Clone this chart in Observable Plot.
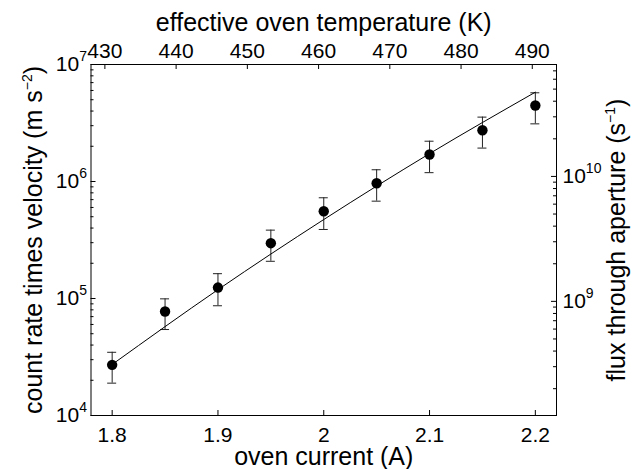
<!DOCTYPE html>
<html><head><meta charset="utf-8">
<script src="https://cdn.jsdelivr.net/npm/d3@7"></script>
<script src="https://cdn.jsdelivr.net/npm/@observablehq/plot@0.6"></script>
<style>
body{margin:0;background:#fff;}
#wrap{position:relative;width:639px;height:469px;overflow:hidden;}
#wrap svg{position:absolute;left:0;top:0;background:transparent;}
</style></head><body><div id="wrap"></div>
<script>
// ---- data ----
const current = [1.8, 1.85, 1.9, 1.95, 2.0, 2.05, 2.1, 2.15, 2.2];
const rate    = [2.71e4, 7.74e4, 1.24e5, 2.97e5, 5.57e5, 9.66e5, 1.70e6, 2.74e6, 4.46e6];
const rateHi  = [3.47e4, 9.93e4, 1.63e5, 3.84e5, 7.26e5, 1.26e6, 2.21e6, 3.55e6, 5.73e6];
const rateLo  = [1.89e4, 5.43e4, 8.67e4, 2.08e5, 3.89e5, 6.79e5, 1.19e6, 1.93e6, 3.11e6];
const fitCurrent = [1.8, 1.9, 2.0, 2.1, 2.2];
const fitRate    = [2.73e4, 1.19e5, 4.73e5, 1.73e6, 5.8e6];

const xTicks = [1.8, 1.9, 2.0, 2.1, 2.2];
const xTickLabels = ["1.8", "1.9", "2", "2.1", "2.2"];
const yTicks = [1e4, 1e5, 1e6, 1e7];
const yTickLabels = ["10^{4}", "10^{5}", "10^{6}", "10^{7}"];
const tempTicks = [430, 440, 450, 460, 470, 480, 490];
const fluxTicks = [1e9, 1e10];
const fluxTickLabels = ["10^{9}", "10^{10}"];

const xLabel = "oven current (A)";
const yLabel = "count rate times velocity (m s^{\u22122})";
const topLabel = "effective oven temperature (K)";
const rightLabel = "flux through aperture (s^{\u22121})";

// ---- layout ----
const W = 639, H = 469;
const M = {marginLeft: 90.5, marginRight: 83, marginTop: 64, marginBottom: 54};
const xDomain = [1.78, 2.22], yDomain = [1e4, 1e7];
const tempDomain = [428.05, 493.4], fluxDomain = [1.22e8, 7.87e10];
const FONT = '"Liberation Sans", Arial, Helvetica, sans-serif';
const TICK_FS = 21, LABEL_FS = 25, SUP_FS = 14, SUP_SHIFT = 10;

const isPow10 = v => Math.abs(Math.log10(v) - Math.round(Math.log10(v))) < 1e-9;
const yMinor = d3.scaleLog().domain(yDomain).ticks().filter(v => !isPow10(v));
const fluxMinor = d3.scaleLog().domain(fluxDomain).ticks().filter(v => !isPow10(v));

const points = current.map((c, i) => ({c, r: rate[i], lo: rateLo[i], hi: rateHi[i]}));
const fit = fitCurrent.map((c, i) => ({c, r: fitRate[i]}));

const main = Plot.plot({
  width: W, height: H, ...M,
  style: {fontFamily: FONT, background: "transparent", color: "black"},
  x: {domain: xDomain},
  y: {type: "log", domain: yDomain},
  marks: [
    Plot.frame({stroke: "black", strokeWidth: 1}),
    // inward ticks
    Plot.ruleY(yMinor, {y: d => d, x1: xDomain[0], x2: xDomain[0], insetRight: -3, stroke: "black"}),
    Plot.ruleY(yTicks, {y: d => d, x1: xDomain[0], x2: xDomain[0], insetRight: -5, stroke: "black"}),
    Plot.ruleX(xTicks, {x: d => d, y1: yDomain[0], y2: yDomain[0], insetBottom: 5, stroke: "black"}),
    Plot.axisX(xTicks, {tickSize: 0, tickPadding: 12, fontSize: TICK_FS, label: null,
      tickFormat: d => xTickLabels[xTicks.indexOf(d)]}),
    Plot.axisY(yTicks, {tickSize: 0, tickPadding: 4, fontSize: TICK_FS, label: null,
      tickFormat: d => yTickLabels[yTicks.indexOf(d)]}),
    // error bars
    Plot.ruleX(points, {x: "c", y1: "lo", y2: "hi", stroke: "#222", strokeWidth: 1}),
    Plot.ruleY(points, {y: "hi", x1: "c", x2: "c", insetLeft: -4.5, insetRight: -4.5, stroke: "#222"}),
    Plot.ruleY(points, {y: "lo", x1: "c", x2: "c", insetLeft: -4.5, insetRight: -4.5, stroke: "#222"}),
    // fit line
    Plot.line(fit, {x: "c", y: "r", stroke: "black", strokeWidth: 1, curve: "monotone-x"}),
    // data points
    Plot.dot(points, {x: "c", y: "r", r: 5.2, fill: "black", stroke: "none"}),
    // axis labels
    Plot.text([xLabel], {frameAnchor: "bottom", dy: 49, fontSize: LABEL_FS, lineAnchor: "bottom"}),
    Plot.text([yLabel], {frameAnchor: "left", textAnchor: "middle", dx: -57, rotate: -90, fontSize: LABEL_FS, lineAnchor: "middle"})
  ]
});

const over = Plot.plot({
  width: W, height: H, ...M,
  style: {fontFamily: FONT, background: "transparent", color: "black"},
  x: {domain: tempDomain},
  y: {type: "log", domain: fluxDomain},
  marks: [
    Plot.ruleX(tempTicks, {x: d => d, y1: fluxDomain[1], y2: fluxDomain[1], insetBottom: -5, stroke: "black"}),
    Plot.ruleY(fluxMinor, {y: d => d, x1: tempDomain[1], x2: tempDomain[1], insetLeft: -3, stroke: "black"}),
    Plot.ruleY(fluxTicks, {y: d => d, x1: tempDomain[1], x2: tempDomain[1], insetLeft: -5, stroke: "black"}),
    Plot.axisX(tempTicks, {anchor: "top", tickSize: 0, tickPadding: 7, fontSize: TICK_FS, label: null}),
    Plot.axisY(fluxTicks, {anchor: "right", tickSize: 0, tickPadding: 6, fontSize: TICK_FS, label: null,
      tickFormat: d => fluxTickLabels[fluxTicks.indexOf(d)]}),
    Plot.text([topLabel], {frameAnchor: "top", dy: -34, fontSize: LABEL_FS, lineAnchor: "bottom"}),
    Plot.text([rightLabel], {frameAnchor: "right", textAnchor: "middle", dx: 60, rotate: -90, fontSize: LABEL_FS, lineAnchor: "middle"})
  ]
});

// turn "^{..}" into real superscript tspans
function supify(svg) {
  svg.querySelectorAll("text").forEach(t => {
    const s = t.textContent;
    if (!s.includes("^{")) return;
    const re = /\^\{([^}]*)\}/g;
    let last = 0, m;
    const parts = [];
    while ((m = re.exec(s))) {
      if (m.index > last) parts.push({txt: s.slice(last, m.index), sup: false});
      parts.push({txt: m[1], sup: true});
      last = re.lastIndex;
    }
    if (last < s.length) parts.push({txt: s.slice(last), sup: false});
    while (t.firstChild) t.removeChild(t.firstChild);
    let shifted = false;
    parts.forEach(p => {
      const ts = document.createElementNS("http://www.w3.org/2000/svg", "tspan");
      ts.textContent = p.txt;
      if (p.sup) { ts.setAttribute("dy", -SUP_SHIFT); ts.setAttribute("font-size", SUP_FS); shifted = true; }
      else if (shifted) { ts.setAttribute("dy", SUP_SHIFT); shifted = false; }
      t.appendChild(ts);
    });
  });
}
supify(main); supify(over);
const wrap = document.getElementById("wrap");
wrap.appendChild(main);
wrap.appendChild(over);
</script></body></html>
